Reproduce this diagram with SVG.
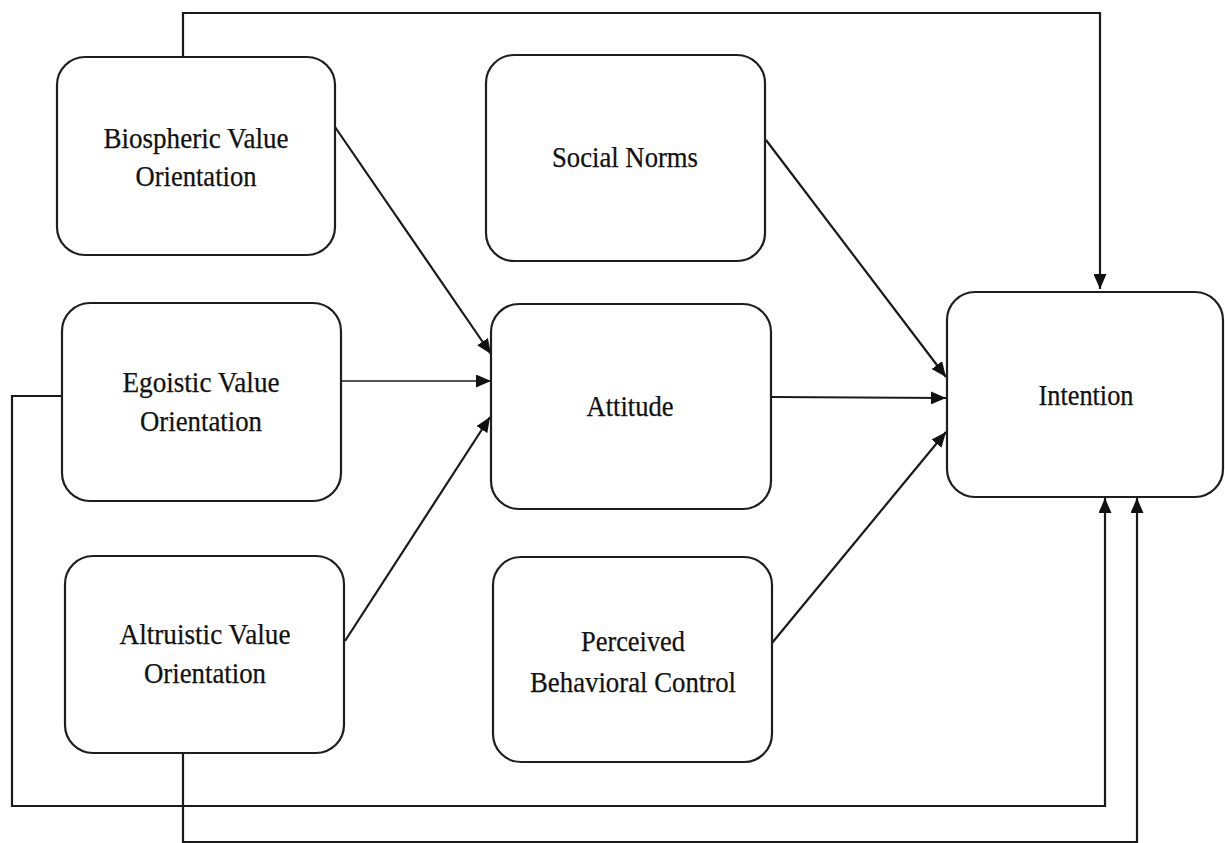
<svg xmlns="http://www.w3.org/2000/svg" width="1225" height="843" viewBox="0 0 1225 843">
<defs>
<style>
.box{fill:#fff;stroke:#1e1e1e;stroke-width:2.2}
.lbl{font-family:"Liberation Serif","Times New Roman",serif;font-size:29px;fill:#111;text-anchor:middle;stroke:#111;stroke-width:0.25}
.con{fill:none;stroke:#1a1a1a;stroke-width:2.2}
</style>
<marker id="ah" markerUnits="userSpaceOnUse" markerWidth="15" markerHeight="13" refX="15" refY="6.5" orient="auto">
<path d="M0,0 L15,6.5 L0,13 z" fill="#111"/>
</marker>
</defs>
<rect width="1225" height="843" fill="#fff"/>
<g id="connectors">
<path class="con" d="M183,57 V13 H1100 V289" marker-end="url(#ah)"/>
<path class="con" d="M62,396 H12 V806 H1105 V498" marker-end="url(#ah)"/>
<path class="con" d="M183,753 V842 H1137 V498" marker-end="url(#ah)"/>
<path class="con" d="M335,127 L491,354" marker-end="url(#ah)"/>
<path class="con" d="M341,381 L491,381" marker-end="url(#ah)" style="stroke-width:1.6"/>
<path class="con" d="M345,641 L490,417" marker-end="url(#ah)"/>
<path class="con" d="M766,140 L946,377" marker-end="url(#ah)"/>
<path class="con" d="M771,397 L946,398" marker-end="url(#ah)"/>
<path class="con" d="M772,643 L946,432" marker-end="url(#ah)"/>
</g>
<g id="biospheric">
<rect class="box" x="57" y="57" width="278" height="198" rx="28"/>
<text class="lbl" x="196" y="148" textLength="185" lengthAdjust="spacingAndGlyphs">Biospheric Value</text>
<text class="lbl" x="196" y="186" textLength="121" lengthAdjust="spacingAndGlyphs">Orientation</text>
</g>
<g id="social-norms">
<rect class="box" x="486" y="55" width="279" height="206" rx="28"/>
<text class="lbl" x="625" y="167" textLength="146" lengthAdjust="spacingAndGlyphs">Social Norms</text>
</g>
<g id="egoistic">
<rect class="box" x="62" y="303" width="279" height="198" rx="28"/>
<text class="lbl" x="201" y="392" textLength="157" lengthAdjust="spacingAndGlyphs">Egoistic Value</text>
<text class="lbl" x="201" y="431" textLength="122" lengthAdjust="spacingAndGlyphs">Orientation</text>
</g>
<g id="attitude">
<rect class="box" x="491" y="304" width="280" height="205" rx="28"/>
<text class="lbl" x="630" y="416" textLength="87" lengthAdjust="spacingAndGlyphs">Attitude</text>
</g>
<g id="intention">
<rect class="box" x="947" y="292" width="276" height="205" rx="28"/>
<text class="lbl" x="1086" y="405" textLength="95" lengthAdjust="spacingAndGlyphs">Intention</text>
</g>
<g id="altruistic">
<rect class="box" x="65" y="556" width="279" height="197" rx="28"/>
<text class="lbl" x="205" y="644" textLength="171" lengthAdjust="spacingAndGlyphs">Altruistic Value</text>
<text class="lbl" x="205" y="683" textLength="122" lengthAdjust="spacingAndGlyphs">Orientation</text>
</g>
<g id="perceived">
<rect class="box" x="493" y="557" width="279" height="205" rx="28"/>
<text class="lbl" x="633" y="651" textLength="104" lengthAdjust="spacingAndGlyphs">Perceived</text>
<text class="lbl" x="633" y="692" textLength="206" lengthAdjust="spacingAndGlyphs">Behavioral Control</text>
</g>
</svg>
